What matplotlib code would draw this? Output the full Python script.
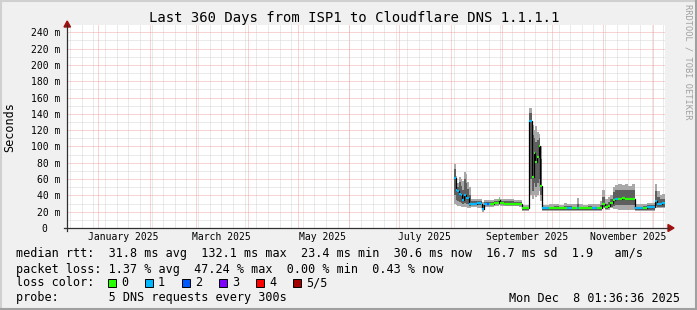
import numpy as np
import pandas as pd
import matplotlib
matplotlib.use('Agg')
import matplotlib.pyplot as plt
import matplotlib.dates as mdates
from matplotlib.lines import Line2D
from matplotlib.patches import Rectangle, Polygon

# time window: last 360 days
END = pd.Timestamp('2025-12-08 01:36:36')
START = END - pd.Timedelta(days=360)

# (ms): median, outer smoke (lo/hi), inner smoke, loss class
dates = ['2025-08-03', '2025-08-04', '2025-08-05', '2025-08-06', '2025-08-07',
         '2025-08-08', '2025-08-09', '2025-08-10', '2025-08-11', '2025-08-12',
         '2025-08-13', '2025-08-15', '2025-08-17', '2025-08-19', '2025-08-20',
         '2025-08-21', '2025-08-23', '2025-08-24', '2025-08-25', '2025-08-27',
         '2025-08-29', '2025-08-30', '2025-08-31', '2025-09-02', '2025-09-05',
         '2025-09-08', '2025-09-11', '2025-09-13', '2025-09-17', '2025-09-19',
         '2025-09-20', '2025-09-21', '2025-09-22', '2025-09-23', '2025-09-24',
         '2025-09-25', '2025-09-27', '2025-09-29', '2025-10-02', '2025-10-05',
         '2025-10-08', '2025-10-10', '2025-10-13', '2025-10-16', '2025-10-17',
         '2025-10-20', '2025-10-23', '2025-10-25', '2025-10-28', '2025-10-30',
         '2025-10-31', '2025-11-02', '2025-11-04', '2025-11-05', '2025-11-07',
         '2025-11-08', '2025-11-10', '2025-11-12', '2025-11-14', '2025-11-16',
         '2025-11-18', '2025-11-20', '2025-11-23', '2025-11-25', '2025-11-27',
         '2025-11-30', '2025-12-02', '2025-12-03', '2025-12-05', '2025-12-06']
median = [61, 46, 45, 42, 41, 34, 40, 37, 37, 30,
          30, 30, 31, 30, 23, 30, 29, 30, 30, 31,
          31, 34, 31, 30, 30, 30, 29, 24, 131, 63,
          92, 81, 87, 100, 51, 24, 24, 24, 25, 24,
          24, 25, 24, 25, 24, 24, 25, 24, 24, 25,
          29, 26, 27, 31, 34, 36, 36, 37, 35, 36,
          35, 24, 24, 25, 26, 26, 33, 30, 29, 31]
smoke_lo = [30, 28, 27, 27, 26, 26, 26, 26, 25, 25,
            26, 26, 25, 25, 20, 26, 26, 26, 26, 27,
            27, 28, 27, 27, 27, 27, 26, 21, 40, 35,
            40, 38, 40, 45, 33, 21, 21, 21, 21, 21,
            21, 21, 21, 21, 21, 21, 21, 21, 21, 21,
            24, 22, 22, 24, 23, 23, 22, 22, 22, 22,
            22, 21, 21, 21, 21, 21, 24, 24, 24, 24]
smoke_hi = [78, 64, 55, 63, 60, 58, 69, 66, 57, 50,
            36, 35, 36, 35, 32, 34, 34, 34, 34, 35,
            36, 38, 36, 35, 35, 34, 34, 28, 147, 126,
            120, 125, 118, 115, 100, 28, 28, 29, 29, 28,
            31, 29, 29, 37, 29, 28, 30, 29, 30, 33,
            46, 35, 38, 40, 50, 53, 54, 53, 54, 52,
            54, 29, 29, 30, 31, 31, 54, 45, 40, 42]
inner_lo = [40, 34, 33, 32, 31, 29, 31, 30, 29, 27,
            28, 28, 28, 28, 22, 28, 28, 28, 28, 29,
            29, 30, 29, 28, 28, 28, 28, 22, 60, 45,
            55, 50, 55, 60, 40, 22, 22, 22, 22, 22,
            22, 22, 22, 22, 22, 22, 22, 22, 22, 22,
            26, 23, 24, 26, 27, 28, 28, 28, 28, 28,
            28, 22, 22, 22, 22, 22, 27, 26, 26, 26]
inner_hi = [72, 58, 50, 56, 52, 46, 60, 55, 48, 40,
            33, 33, 33, 33, 28, 32, 32, 32, 32, 33,
            33, 36, 33, 33, 33, 32, 32, 26, 141, 114,
            110, 105, 108, 110, 85, 26, 26, 26, 27, 26,
            27, 27, 26, 30, 26, 26, 27, 26, 26, 28,
            38, 30, 32, 35, 44, 46, 47, 46, 47, 46,
            46, 26, 26, 27, 28, 28, 45, 38, 35, 36]
loss = [1, 1, 1, 1, 1, 1, 1, 1, 1, 1,
        1, 1, 1, 1, 1, 1, 2, 1, 0, 0,
        0, 0, 0, 0, 0, 0, 0, 0, 1, 0,
        0, 0, 0, 0, 0, 1, 1, 0, 0, 0,
        0, 1, 0, 1, 0, 0, 0, 1, 0, 0,
        0, 0, 0, 0, 0, 1, 0, 0, 0, 0,
        0, 1, 1, 0, 1, 1, 1, 1, 1, 1]

loss_colors = ['#26ff00', '#00b8ff', '#0059ff', '#7e00ff', '#ff0000', '#a00000']
loss_labels = ['0', '1', '2', '3', '4', '5/5']

W, H = 697, 310
mono = 'DejaVu Sans Mono'

def fx(px):
    return px / W

def fy(py):
    return 1 - py / H

fig = plt.figure(figsize=(W / 100, H / 100), dpi=100, facecolor='#f0f0f0')

# plot area: x 67..665 px, y 25..228 px
ymax = 249
ax = fig.add_axes([fx(67), fy(228), (665 - 67) / W, (228 - 25) / H])
ax.set_facecolor('white')
for s in ax.spines.values():
    s.set_visible(False)

x0 = mdates.date2num(START)
x1 = mdates.date2num(END)
ax.set_xlim(x0, x1)
ax.set_ylim(0, ymax)

grid_kw = dict(lw=0.72, linestyle=(0, (1, 1)), zorder=1, snap=True)
# minor grid: weeks (Sunday) and every 10 ms
for d in pd.date_range(START.normalize(), END, freq='W-SUN'):
    ax.axvline(mdates.date2num(d), color='#d6d6d6', **grid_kw)
for v in range(10, ymax, 20):
    ax.axhline(v, color='#d6d6d6', **grid_kw)
# major grid: months and every 20 ms
for d in pd.date_range('2025-01-01', END, freq='MS'):
    ax.axvline(mdates.date2num(d), color='#f0a8a8', **grid_kw)
for v in range(20, ymax, 20):
    ax.axhline(v, color='#f0a8a8', **grid_kw)

# smoke + median
x = mdates.date2num(pd.to_datetime(dates))
xe = np.append(x, x1)
ext = lambda a: np.append(a, a[-1])
ax.fill_between(xe, ext(smoke_lo), ext(smoke_hi), step='post', color='#a8a8a8', lw=0, zorder=2)
ax.fill_between(xe, ext(inner_lo), ext(inner_hi), step='post', color='#5e5e5e', lw=0, zorder=3)
ax.step(xe, ext(median), where='post', color='black', lw=0.9, zorder=4)
for i in range(len(x)):
    ax.hlines(median[i], xe[i], xe[i + 1], color=loss_colors[loss[i]], lw=1.6, zorder=5)

# y ticks
yt = list(range(0, 241, 20))
ax.set_yticks(yt)
ax.set_yticklabels([f'{v} m' if v else '0  ' for v in yt], fontfamily=mono, fontsize=7)
ax.tick_params(axis='y', length=0, pad=5)

# x labels: every two months, centred half a month after the start
lab_dates = pd.date_range('2025-01-01', '2025-11-01', freq='2MS')
ax.set_xticks(mdates.date2num(lab_dates + pd.Timedelta(days=15)))
ax.set_xticklabels([d.strftime('%B %Y') for d in lab_dates], fontfamily=mono, fontsize=7)
ax.tick_params(axis='x', length=0, pad=3)

# axis lines with arrows
fig.add_artist(Line2D([fx(67), fx(67)], [fy(231), fy(25)], color='#303030', lw=0.9))
fig.add_artist(Line2D([fx(64), fx(668)], [fy(228), fy(228)], color='#303030', lw=0.9))
fig.add_artist(Polygon([[fx(64), fy(27)], [fx(70.5), fy(27)], [fx(67.2), fy(21)]],
                       closed=True, color='#a01010', transform=fig.transFigure))
fig.add_artist(Polygon([[fx(668), fy(224.5)], [fx(668), fy(231.5)], [fx(674), fy(228)]],
                       closed=True, color='#a01010', transform=fig.transFigure))

# titles
fig.text(fx(354), fy(18), 'Last 360 Days from ISP1 to Cloudflare DNS 1.1.1.1',
         ha='center', va='center', fontfamily=mono, fontsize=10)
fig.text(fx(10), fy(127), 'Seconds', rotation=90, ha='center', va='center',
         fontfamily=mono, fontsize=8.5)
fig.text(fx(688), fy(4), 'RRDTOOL / TOBI OETIKER', rotation=270, ha='center', va='top',
         fontfamily=mono, fontsize=6.2, color='#a0a0a0')

# legend block
leg = dict(ha='left', va='center', fontfamily=mono, fontsize=8.5)
fig.text(fx(16), fy(254), 'median rtt:  31.8 ms avg  132.1 ms max  23.4 ms min  30.6 ms now  16.7 ms sd  1.9   am/s', **leg)
fig.text(fx(16), fy(269), 'packet loss: 1.37 % avg  47.24 % max  0.00 % min  0.43 % now', **leg)
fig.text(fx(16), fy(283), 'loss color:', **leg)
for i, (c, l) in enumerate(zip(loss_colors, loss_labels)):
    bx = 108 + 37 * i
    fig.add_artist(Rectangle((fx(bx), fy(287)), 8 / W, 8 / H, facecolor=c,
                             edgecolor='black', lw=0.7, transform=fig.transFigure))
    fig.text(fx(bx + 13), fy(283), l, **leg)
fig.text(fx(16), fy(298), 'probe:       5 DNS requests every 300s', **leg)
fig.text(fx(680), fy(298), 'Mon Dec  8 01:36:36 2025', ha='right', va='center',
         fontfamily=mono, fontsize=8.5)

# 3d-ish frame
fig.add_artist(Line2D([0, 1], [fy(1), fy(1)], color='#d0d0d0', lw=1.5))
fig.add_artist(Line2D([fx(1), fx(1)], [0, 1], color='#d0d0d0', lw=1.5))
fig.add_artist(Line2D([0, 1], [fy(309), fy(309)], color='#a0a0a0', lw=1.5))
fig.add_artist(Line2D([fx(696), fx(696)], [0, 1], color='#a0a0a0', lw=1.5))

fig.savefig('out.png', dpi=100, facecolor=fig.get_facecolor())
